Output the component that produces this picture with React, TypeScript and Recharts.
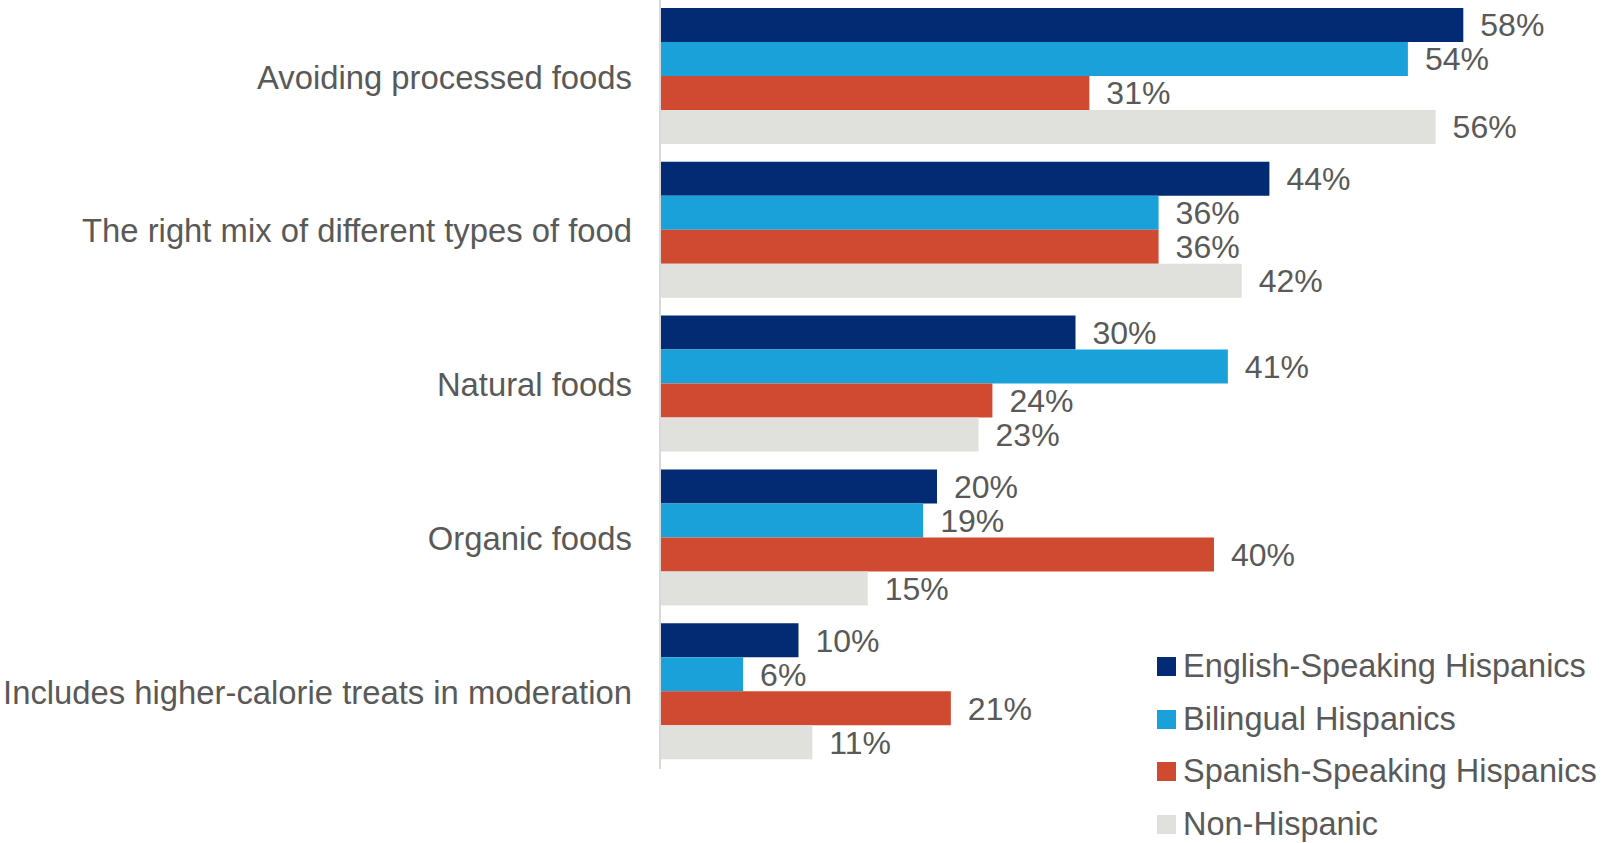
import React from "react";
import { BarChart, Bar, XAxis, YAxis, LabelList } from "recharts";

const categories = [
  "Avoiding processed foods",
  "The right mix of different types of food",
  "Natural foods",
  "Organic foods",
  "Includes higher-calorie treats in moderation",
];
const englishSpeaking = [58, 44, 30, 20, 10];
const bilingual = [54, 36, 41, 19, 6];
const spanishSpeaking = [31, 36, 24, 40, 21];
const nonHispanic = [56, 42, 23, 15, 11];

const seriesNames = [
  "English-Speaking Hispanics",
  "Bilingual Hispanics",
  "Spanish-Speaking Hispanics",
  "Non-Hispanic",
];
const seriesKeys = ["eng", "bil", "spa", "non"];
const seriesColors = ["#022b73", "#1ba1d9", "#d04a31", "#e0e0dc"];

const data = categories.map((c, i) => ({
  name: c,
  eng: englishSpeaking[i],
  bil: bilingual[i],
  spa: spanishSpeaking[i],
  non: nonHispanic[i],
}));

const FONT = "'Liberation Sans', Arial, sans-serif";
const TEXT = "#595959";

export default function App() {
  return (
    <div style={{ position: "absolute", left: 0, top: 0, width: 1601, height: 843, background: "#fff", fontFamily: FONT }}>
      <BarChart
        width={1601}
        height={843}
        data={data}
        layout="vertical"
        margin={{ top: 0, right: 110, bottom: 74, left: 0 }}
        barCategoryGap={8}
        barGap={0}
      >
        <XAxis type="number" domain={[0, 60]} hide />
        <YAxis
          type="category"
          dataKey="name"
          width={660}
          tickLine={false}
          tickSize={0}
          tickMargin={28}
          axisLine={{ stroke: "#d9d9d9", strokeWidth: 2 }}
          tick={{ fill: TEXT, fontSize: 32.8, fontFamily: FONT }}
          interval={0}
        />
        {seriesKeys.map((k, i) => (
          <Bar key={k} dataKey={k} name={seriesNames[i]} fill={seriesColors[i]} isAnimationActive={false}>
            <LabelList
              dataKey={k}
              position="right"
              offset={17}
              formatter={(v: number) => `${v}%`}
              style={{ fill: TEXT, fontSize: 32, fontFamily: FONT }}
            />
          </Bar>
        ))}
      </BarChart>
      <div style={{ position: "absolute", left: 1157, top: 640 }}>
        {seriesNames.map((n, i) => (
          <div key={n} style={{ display: "flex", alignItems: "center", height: 52.7, whiteSpace: "nowrap" }}>
            <span style={{ display: "inline-block", width: 19, height: 19, background: seriesColors[i], marginRight: 7 }} />
            <span style={{ fontSize: 32.5, color: TEXT, fontFamily: FONT }}>{n}</span>
          </div>
        ))}
      </div>
    </div>
  );
}
